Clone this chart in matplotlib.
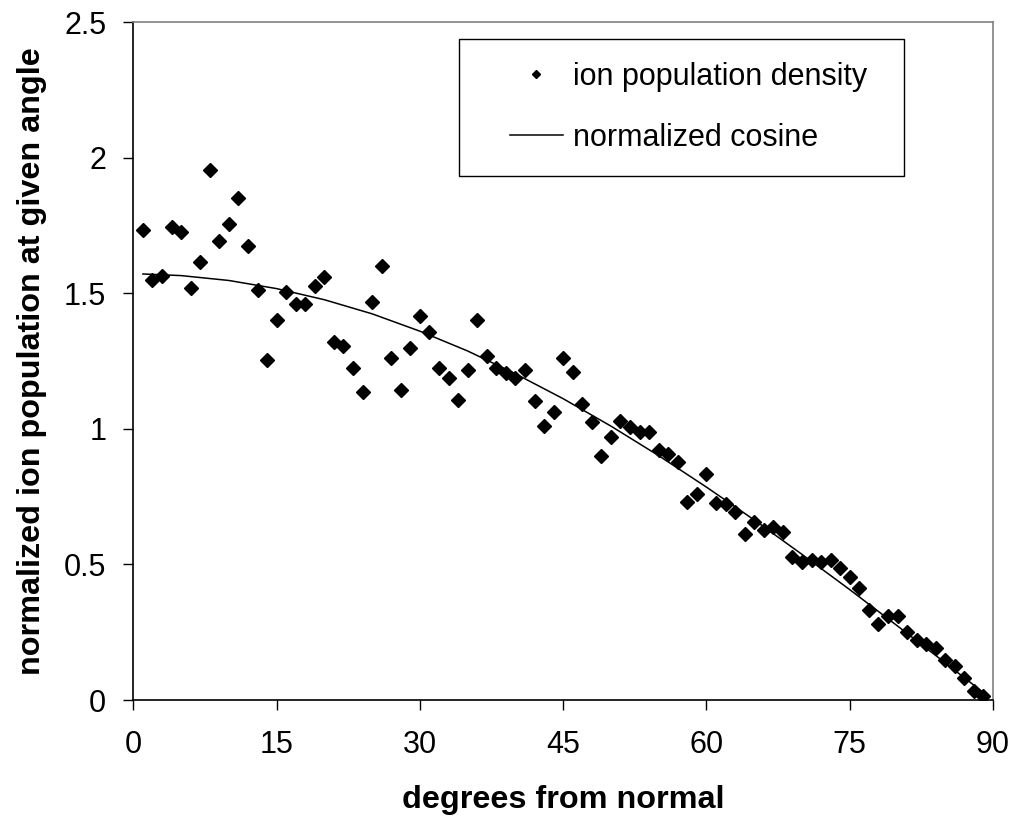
import matplotlib
matplotlib.use("Agg")
import matplotlib.pyplot as plt
from matplotlib.lines import Line2D
from matplotlib.legend_handler import HandlerLine2D

plt.rcParams['font.family'] = ['Liberation Sans', 'DejaVu Sans']

# ion population density (degrees from normal, normalized population)
angles = list(range(1, 90))
density = [1.734, 1.550, 1.565, 1.743, 1.727, 1.521, 1.615, 1.956, 1.691, 1.756,
           1.851, 1.675, 1.513, 1.255, 1.401, 1.504, 1.460, 1.460, 1.528, 1.558,
           1.320, 1.304, 1.224, 1.135, 1.468, 1.601, 1.261, 1.144, 1.299, 1.417,
           1.357, 1.224, 1.187, 1.107, 1.218, 1.402, 1.270, 1.226, 1.206, 1.187,
           1.218, 1.101, 1.011, 1.063, 1.261, 1.211, 1.092, 1.025, 0.900, 0.968,
           1.027, 1.005, 0.988, 0.988, 0.923, 0.908, 0.877, 0.729, 0.760, 0.834,
           0.728, 0.723, 0.693, 0.613, 0.658, 0.627, 0.637, 0.619, 0.527, 0.508,
           0.517, 0.508, 0.517, 0.488, 0.455, 0.414, 0.332, 0.279, 0.311, 0.311,
           0.250, 0.221, 0.207, 0.191, 0.148, 0.125, 0.080, 0.034, 0.015]

# normalized cosine curve
cos_angles = [1, 5, 10, 15, 20, 25, 30, 35, 40, 45, 50, 55, 60, 65, 70, 75, 80, 85, 89]
cos_values = [1.571, 1.565, 1.547, 1.517, 1.476, 1.424, 1.360, 1.287, 1.203, 1.111,
              1.010, 0.901, 0.785, 0.664, 0.537, 0.407, 0.273, 0.137, 0.027]

x_ticks = [0, 15, 30, 45, 60, 75, 90]
y_ticks = [0, 0.5, 1, 1.5, 2, 2.5]
y_ticklabels = ['0', '0.5', '1', '1.5', '2', '2.5']

fig = plt.figure(figsize=(10.21, 8.25), dpi=100)
ax = fig.add_axes([0.1306, 0.1515, 0.9726 - 0.1306, 0.9733 - 0.1515])

ax.plot(angles, density, linestyle='none', marker='D', markersize=6.8,
        color='black', label='ion population density', zorder=3)
ax.plot(cos_angles, cos_values, color='black', linewidth=1.1,
        label='normalized cosine', zorder=2)

ax.set_xlim(0, 90)
ax.set_ylim(0, 2.5)
ax.set_xticks(x_ticks)
ax.set_xticklabels([str(v) for v in x_ticks])
ax.set_yticks(y_ticks)
ax.set_yticklabels(y_ticklabels)

ax.tick_params(axis='both', direction='out', length=7.5, width=1.0,
               labelsize=22, color='black')
ax.tick_params(axis='x', pad=14)
ax.tick_params(axis='y', pad=12)

for side in ['left', 'bottom']:
    ax.spines[side].set_color('black')
    ax.spines[side].set_linewidth(1.2)
for side in ['top', 'right']:
    ax.spines[side].set_color('#808080')
    ax.spines[side].set_linewidth(1.2)

ax.set_xlabel('degrees from normal', fontsize=23.3, fontweight='bold', labelpad=18)
ax.set_ylabel('normalized ion population at given angle', fontsize=23.3,
              fontweight='bold', labelpad=12)

x0 = (459 - 133.3) / (993 - 133.3)
x1 = (904 - 133.3) / (993 - 133.3)
ytop = (700 - 39) / (700 - 22)
leg = ax.legend(loc='upper left', bbox_to_anchor=(x0, ytop - 0.2, x1 - x0, 0.2),
                mode='expand', fontsize=22, frameon=True, fancybox=False,
                edgecolor='black', framealpha=1, borderpad=0.75,
                labelspacing=1.02, handlelength=2.65, handletextpad=0.33,
                markerscale=0.6, borderaxespad=0,
                handler_map={Line2D: HandlerLine2D(xpad=0.92)})
leg.get_frame().set_linewidth(1.0)

fig.savefig('out.png', dpi=100, facecolor='white')
